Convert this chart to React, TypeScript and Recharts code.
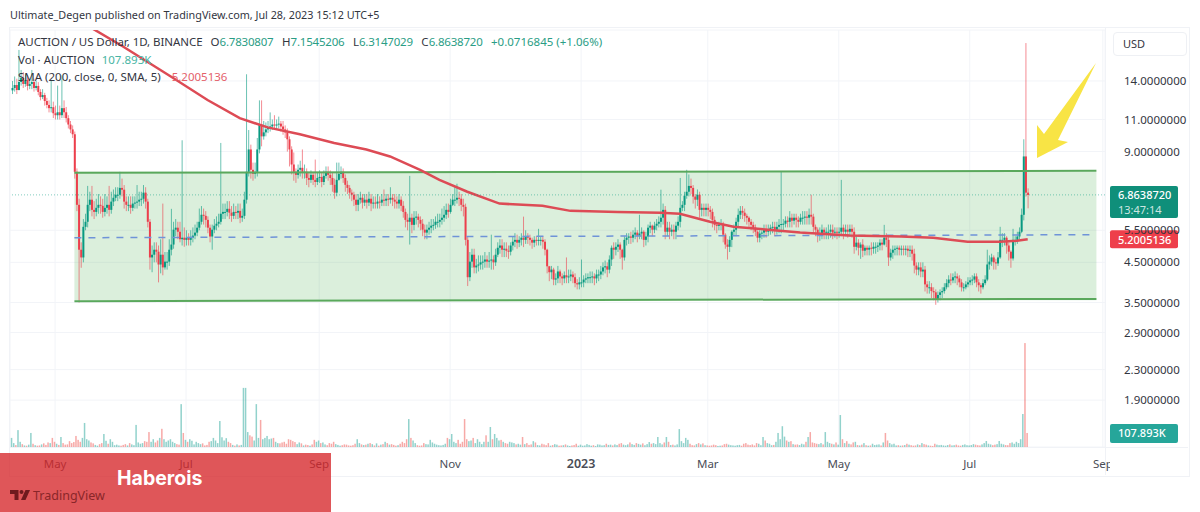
import {
  Bar,
  CartesianGrid,
  ComposedChart,
  Line,
  ReferenceArea,
  ReferenceLine,
  XAxis,
  YAxis,
} from "recharts";

// AUCTION / USD daily candles. Index 0 is around Apr 11 2022.
const CLOSES = [
  13.4, 13.65, 13.23, 13.91, 14.26, 13.74, 14.09, 13.57, 13.74, 13.91, 13.4, 13.57, 13.07, 12.66, 12.82, 12.35, 12.05, 11.81, 11.88, 11.44,
  11.3, 11.51, 11.3, 11.81, 11.51, 11.09, 10.66, 10.34, 10.03, 7.93, 6.45, 4.87, 4.64, 5.62, 5.8, 6.45, 6.66, 6.25, 6.17, 6.33,
  6.45, 6.41, 6.17, 6.33, 6.45, 6.25, 6.58, 6.74, 6.87, 6.87, 7.17, 7.09, 6.58, 6.45, 6.45, 6.33, 6.5, 6.54, 6.58, 6.66,
  6.7, 6.96, 6.58, 5.8, 4.64, 4.72, 4.87, 4.81, 4.44, 4.72, 4.36, 4.52, 4.52, 4.87, 5.03, 5.52, 5.59, 5.45, 5.2, 5.25,
  5.18, 5.25, 5.18, 5.25, 5.32, 5.42, 5.59, 5.8, 6.06, 6.02, 5.87, 5.59, 5.29, 5.52, 5.66, 5.73, 5.8, 6.1, 6.17, 6.17,
  6.29, 6.14, 6.02, 6.17, 6.14, 6.21, 5.95, 6.02, 6.66, 7.93, 9.12, 8.03, 7.83, 7.93, 9.12, 10.66, 9.9, 10.15, 10.34, 10.47,
  10.53, 10.66, 10.6, 10.66, 10.72, 10.53, 10.34, 10.15, 9.72, 9.12, 8.3, 7.93, 7.78, 8.03, 8.13, 7.93, 7.93, 7.63, 7.54, 7.78,
  7.54, 7.44, 7.63, 7.68, 7.44, 7.73, 7.93, 7.78, 7.63, 7.31, 6.96, 7.54, 7.83, 7.93, 7.63, 7.31, 7.17, 6.96, 6.87, 6.66,
  6.45, 6.66, 6.74, 6.54, 6.66, 6.54, 6.7, 6.5, 6.54, 6.5, 6.58, 6.54, 6.66, 6.62, 6.7, 6.66, 6.74, 6.66, 6.58, 6.5,
  6.66, 6.41, 6.17, 5.87, 5.8, 5.95, 5.69, 5.95, 5.99, 5.87, 5.73, 5.52, 5.42, 5.52, 5.59, 5.66, 5.69, 5.8, 5.8, 5.87,
  5.95, 6.06, 6.25, 6.17, 6.45, 6.66, 6.66, 6.74, 6.7, 6.45, 6.37, 5.18, 4.1, 4.52, 4.72, 4.36, 4.41, 4.44, 4.5, 4.52,
  4.58, 4.52, 4.55, 4.58, 4.5, 4.72, 4.93, 5.0, 4.87, 4.9, 4.84, 4.81, 5.0, 5.12, 5.18, 5.09, 5.18, 5.25, 5.18, 5.29,
  5.25, 5.18, 5.09, 5.18, 5.15, 5.18, 5.18, 5.12, 4.87, 4.39, 4.23, 4.3, 4.04, 4.07, 4.25, 4.12, 4.07, 4.15, 4.1, 4.12,
  4.17, 4.1, 3.95, 3.92, 3.97, 3.97, 4.04, 4.07, 4.1, 4.1, 4.12, 4.07, 4.17, 4.17, 4.25, 4.36, 4.39, 4.3, 4.58, 4.93,
  4.87, 4.96, 5.03, 4.87, 4.64, 5.18, 5.25, 5.29, 5.25, 5.35, 5.42, 5.32, 5.39, 5.45, 5.18, 5.29, 5.59, 5.66, 5.52, 5.66,
  5.73, 5.8, 5.95, 6.25, 5.45, 5.59, 5.45, 5.52, 5.45, 5.66, 5.8, 6.33, 6.45, 6.83, 7.0, 7.26, 7.17, 6.79, 6.66, 6.87,
  6.25, 6.33, 6.25, 6.33, 6.25, 6.17, 5.87, 5.69, 5.66, 5.69, 5.73, 5.35, 5.03, 4.96, 5.18, 5.45, 5.52, 5.8, 6.06, 6.21,
  6.14, 6.02, 5.95, 5.8, 5.69, 5.59, 5.45, 5.25, 5.39, 5.42, 5.52, 5.45, 5.52, 5.59, 5.62, 5.52, 5.62, 5.69, 5.72, 5.73,
  5.84, 5.8, 5.95, 5.84, 5.95, 5.87, 5.8, 5.95, 5.95, 5.99, 5.95, 6.06, 5.99, 5.62, 5.52, 5.35, 5.35, 5.52, 5.42, 5.45,
  5.45, 5.52, 5.42, 5.45, 5.42, 5.45, 5.59, 5.45, 5.52, 5.45, 5.55, 5.45, 4.96, 5.09, 4.93, 5.03, 4.84, 4.93, 4.87, 4.93,
  4.9, 4.96, 4.96, 5.0, 5.09, 5.03, 5.25, 5.18, 4.64, 4.78, 4.87, 4.9, 4.93, 4.87, 4.9, 4.87, 4.9, 4.84, 4.87, 4.75,
  4.41, 4.3, 4.36, 4.25, 4.3, 3.92, 3.85, 3.85, 3.76, 3.73, 3.58, 3.67, 3.73, 3.76, 3.85, 3.95, 4.04, 4.02, 4.1, 4.12,
  4.07, 3.97, 3.85, 3.85, 3.92, 3.97, 4.02, 4.04, 4.12, 3.97, 3.9, 3.85, 3.95, 4.04, 4.44, 4.52, 4.64, 4.5, 4.47, 4.64,
  5.18, 5.18, 5.25, 5.0, 4.81, 4.61, 5.18, 5.18, 5.29, 5.45, 6.06, 8.73, 6.96, 6.86,
];

const HIGHS = [
  14.0, 14.4, 14.2, 17.0, 15.0, 14.8, 14.6, 14.5, 14.2, 15.0, 14.2, 14.0, 13.9, 13.3, 13.3, 13.0, 12.6, 12.4, 14.1, 12.3,
  12.0, 13.6, 12.0, 14.5, 12.4, 11.9, 11.3, 10.9, 10.6, 10.2, 8.1, 6.7, 5.1, 5.9, 6.1, 7.26, 7.0, 7.26, 6.6, 6.7,
  6.9, 6.8, 6.7, 6.9, 6.8, 7.26, 7.0, 7.1, 7.2, 7.2, 7.93, 7.6, 7.3, 6.8, 6.8, 6.8, 6.8, 6.8, 7.3, 7.0,
  7.0, 7.3, 7.2, 6.7, 5.9, 5.0, 5.1, 5.1, 5.0, 5.2, 6.5, 4.8, 4.8, 5.2, 6.29, 5.8, 5.9, 5.8, 5.8, 9.66,
  5.6, 5.5, 5.4, 5.5, 5.6, 5.7, 5.8, 6.3, 6.4, 6.3, 6.2, 6.0, 5.7, 5.7, 5.9, 6.0, 6.1, 9.5, 6.5, 6.5,
  6.6, 6.6, 6.4, 6.5, 6.4, 6.5, 6.5, 6.3, 7.0, 14.6, 10.3, 9.4, 8.4, 8.4, 9.8, 12.4, 12.4, 10.9, 10.8, 10.9,
  11.5, 11.0, 11.3, 11.0, 11.2, 10.9, 10.9, 10.6, 10.4, 9.9, 9.3, 8.95, 8.1, 8.3, 8.5, 9.12, 8.3, 8.1, 7.9, 8.0,
  7.9, 8.56, 7.9, 8.0, 7.9, 8.0, 8.2, 8.2, 8.0, 7.9, 7.6, 8.4, 8.4, 8.2, 8.1, 7.8, 7.5, 7.3, 7.1, 7.0,
  6.9, 6.9, 7.0, 6.9, 6.9, 6.9, 7.0, 6.9, 6.8, 6.8, 6.9, 6.8, 6.9, 7.1, 6.9, 6.9, 7.2, 6.9, 6.9, 6.8,
  6.9, 6.8, 6.6, 6.3, 6.1, 7.73, 6.1, 6.2, 6.2, 6.1, 6.0, 5.9, 5.7, 5.7, 5.8, 5.9, 5.9, 6.0, 6.1, 6.1,
  6.3, 6.4, 6.5, 6.5, 6.7, 6.9, 7.2, 7.36, 7.0, 6.9, 6.7, 6.5, 5.3, 4.8, 4.9, 4.9, 4.6, 4.7, 4.7, 4.7,
  4.8, 4.7, 4.8, 5.35, 4.7, 4.9, 5.1, 5.2, 5.2, 5.1, 5.1, 5.0, 5.1, 5.3, 5.4, 5.35, 5.3, 5.4, 5.99, 5.5,
  5.4, 5.35, 5.25, 5.3, 5.3, 5.55, 5.3, 5.3, 5.2, 4.9, 4.4, 4.4, 4.35, 4.2, 4.4, 4.3, 4.2, 4.25, 4.64, 4.3,
  4.3, 4.25, 4.2, 4.05, 4.1, 4.58, 4.15, 4.2, 4.2, 4.25, 4.25, 4.2, 4.3, 4.3, 4.4, 4.5, 4.55, 4.5, 4.7, 5.0,
  5.1, 5.1, 5.2, 5.1, 4.9, 5.3, 5.4, 5.4, 5.45, 5.5, 5.6, 5.5, 6.06, 5.6, 5.5, 5.45, 5.7, 5.8, 5.7, 5.8,
  5.9, 6.0, 7.09, 6.5, 6.4, 5.8, 5.8, 5.7, 5.7, 5.8, 6.0, 7.63, 6.6, 7.0, 8.03, 7.8, 7.6, 7.3, 6.9, 7.1,
  7.0, 6.5, 6.5, 6.5, 6.5, 6.4, 6.3, 6.0, 5.8, 5.8, 5.9, 5.8, 5.4, 5.2, 5.3, 5.5, 5.7, 5.95, 6.3, 6.4,
  6.4, 6.3, 6.1, 6.0, 5.9, 5.8, 5.7, 5.5, 5.5, 5.5, 5.7, 5.7, 5.7, 5.7, 5.8, 5.8, 5.8, 5.9, 7.93, 5.9,
  6.0, 6.0, 6.2, 6.1, 6.1, 6.1, 6.0, 6.1, 6.2, 6.2, 6.2, 6.3, 6.87, 6.1, 5.7, 5.6, 5.6, 5.7, 5.6, 5.6,
  5.7, 5.7, 5.7, 5.6, 5.6, 5.6, 7.54, 5.7, 5.7, 5.7, 5.7, 5.7, 5.6, 5.3, 5.2, 5.1, 5.2, 5.0, 5.0, 5.0,
  5.1, 5.1, 5.1, 5.1, 5.2, 5.2, 5.69, 5.4, 5.3, 4.9, 5.0, 5.0, 5.0, 5.0, 5.0, 5.0, 5.0, 5.0, 5.0, 5.0,
  4.9, 4.5, 4.5, 4.5, 4.5, 4.4, 4.0, 4.0, 3.95, 3.85, 3.8, 3.75, 3.8, 3.85, 3.95, 4.05, 4.15, 4.2, 4.2, 4.25,
  4.2, 4.15, 4.05, 3.95, 4.0, 4.1, 4.1, 4.15, 4.2, 4.2, 4.05, 3.95, 4.05, 4.15, 4.87, 4.7, 4.75, 4.7, 4.6, 4.8,
  5.62, 5.4, 5.4, 5.3, 5.1, 4.85, 5.55, 5.3, 5.45, 5.6, 6.3, 9.72, 17.75, 7.15,
];

const LOWS = [
  12.9, 13.1, 12.9, 13.2, 13.6, 13.4, 13.5, 13.2, 13.3, 13.3, 13.1, 13.2, 12.8, 12.4, 12.5, 12.0, 11.8, 11.5, 11.5, 11.1,
  11.0, 11.0, 11.0, 11.1, 11.1, 10.8, 10.4, 10.1, 9.8, 7.6, 6.2, 3.5, 4.35, 4.5, 5.5, 5.6, 6.2, 6.0, 5.9, 6.0,
  6.1, 6.1, 5.95, 6.0, 6.1, 6.0, 6.1, 6.4, 6.6, 6.6, 6.7, 6.8, 6.3, 6.2, 6.2, 6.1, 6.2, 6.3, 6.3, 6.4,
  6.4, 6.5, 6.3, 5.6, 4.3, 4.23, 4.5, 4.5, 3.97, 4.2, 4.15, 4.3, 4.3, 4.4, 4.7, 4.9, 5.3, 5.2, 5.1, 5.0,
  4.96, 5.0, 5.0, 5.0, 5.1, 5.2, 5.3, 5.5, 5.7, 5.7, 5.6, 5.4, 5.1, 4.87, 5.4, 5.5, 5.6, 5.7, 5.9, 5.9,
  6.0, 5.9, 5.8, 5.9, 5.9, 5.9, 5.75, 5.8, 5.9, 6.5, 7.7, 7.6, 7.5, 7.6, 7.7, 8.9, 9.3, 9.7, 9.9, 10.1,
  10.2, 10.3, 10.3, 10.3, 10.4, 10.2, 10.0, 9.8, 9.0, 8.2, 7.8, 7.5, 7.4, 7.6, 7.7, 7.6, 7.6, 7.3, 7.2, 7.4,
  7.3, 7.2, 7.3, 7.4, 7.2, 7.3, 7.6, 7.5, 7.3, 7.0, 6.7, 6.8, 7.5, 7.6, 7.4, 7.0, 6.9, 6.7, 6.6, 6.4,
  6.2, 6.2, 6.5, 6.3, 6.4, 6.3, 6.4, 6.2, 6.3, 6.3, 6.3, 6.3, 6.4, 6.4, 6.4, 6.4, 6.5, 6.4, 6.3, 6.3,
  6.3, 6.2, 5.95, 5.6, 5.5, 5.03, 5.4, 5.5, 5.7, 5.6, 5.5, 5.3, 5.2, 5.2, 5.35, 5.4, 5.5, 5.55, 5.6, 5.6,
  5.7, 5.8, 5.9, 5.95, 6.1, 6.4, 6.4, 6.5, 6.4, 6.2, 6.0, 5.0, 3.88, 4.0, 4.35, 4.2, 4.2, 4.25, 4.3, 4.3,
  4.35, 4.35, 4.35, 4.3, 4.3, 4.4, 4.65, 4.75, 4.65, 4.65, 4.65, 4.6, 4.7, 4.85, 4.95, 4.9, 4.95, 5.0, 4.95, 5.05,
  5.05, 5.0, 4.9, 4.95, 5.0, 5.0, 5.0, 4.9, 4.7, 4.2, 4.0, 4.05, 3.9, 3.9, 3.95, 3.95, 3.9, 3.95, 3.95, 3.95,
  4.0, 3.95, 3.85, 3.8, 3.8, 3.85, 3.85, 3.95, 3.95, 3.95, 3.95, 3.9, 3.95, 4.0, 4.05, 4.15, 4.2, 4.1, 4.2, 4.4,
  4.6, 4.7, 4.8, 4.6, 4.3, 4.55, 5.0, 5.05, 5.05, 5.1, 5.2, 5.1, 5.2, 5.2, 4.95, 5.0, 5.1, 5.4, 5.3, 5.4,
  5.5, 5.6, 5.6, 5.7, 5.2, 5.3, 5.2, 5.3, 5.2, 5.2, 5.5, 5.6, 6.2, 6.2, 6.7, 6.8, 6.9, 6.5, 6.3, 6.4,
  5.95, 6.0, 6.0, 6.0, 6.0, 5.9, 5.6, 5.5, 5.4, 5.5, 5.5, 5.1, 4.9, 4.58, 4.8, 4.95, 5.3, 5.3, 5.6, 5.9,
  5.9, 5.8, 5.7, 5.6, 5.5, 5.4, 5.3, 5.1, 5.1, 5.2, 5.25, 5.25, 5.3, 5.35, 5.4, 5.3, 5.35, 5.4, 5.4, 5.45,
  5.6, 5.6, 5.6, 5.6, 5.7, 5.6, 5.6, 5.7, 5.7, 5.7, 5.7, 5.7, 5.7, 5.4, 5.3, 5.1, 5.15, 5.2, 5.2, 5.2,
  5.2, 5.25, 5.2, 5.25, 5.2, 5.25, 5.3, 5.2, 5.3, 5.25, 5.3, 5.25, 4.75, 4.85, 4.7, 4.6, 4.65, 4.7, 4.7, 4.7,
  4.7, 4.75, 4.75, 4.8, 4.85, 4.85, 5.0, 4.95, 4.4, 4.55, 4.6, 4.7, 4.7, 4.7, 4.7, 4.7, 4.7, 4.65, 4.65, 4.55,
  4.2, 4.15, 4.15, 4.1, 4.1, 3.75, 3.7, 3.7, 3.6, 3.55, 3.45, 3.5, 3.55, 3.6, 3.7, 3.8, 3.85, 3.9, 3.95, 3.95,
  3.9, 3.85, 3.75, 3.75, 3.8, 3.85, 3.9, 3.9, 3.95, 3.85, 3.75, 3.7, 3.8, 3.9, 4.0, 4.3, 4.4, 4.3, 4.3, 4.4,
  4.6, 4.95, 5.0, 4.75, 4.55, 4.35, 4.55, 5.0, 5.05, 5.2, 5.4, 5.85, 6.79, 6.31,
];

// Volume in thousands.
const VOLUMES = [
  70, 30, 15, 130, 40, 22, 12, 10, 18, 108, 25, 14, 10, 12, 20, 28, 16, 35, 30, 70,
  40, 25, 16, 77, 30, 18, 20, 45, 30, 38, 85, 55, 40, 70, 185, 60, 50, 35, 28, 16,
  10, 22, 30, 100, 48, 25, 60, 40, 14, 18, 12, 10, 16, 22, 12, 30, 20, 14, 170, 35,
  25, 30, 45, 40, 115, 40, 60, 35, 50, 70, 140, 60, 40, 50, 60, 40, 30, 22, 18, 330,
  108, 55, 40, 60, 48, 20, 40, 30, 22, 28, 12, 16, 40, 45, 70, 50, 30, 200, 75, 50,
  68, 40, 30, 16, 10, 20, 12, 16, 455, 455, 115, 90, 80, 50, 330, 70, 208, 60, 70, 85,
  60, 65, 70, 40, 30, 28, 35, 40, 25, 60, 55, 45, 38, 22, 35, 28, 12, 18, 15, 10,
  20, 55, 40, 50, 30, 35, 20, 14, 30, 25, 40, 22, 16, 10, 14, 20, 18, 12, 10, 14,
  25, 60, 30, 20, 15, 18, 25, 30, 22, 12, 28, 10, 18, 22, 40, 30, 18, 22, 16, 10,
  14, 25, 40, 30, 60, 215, 70, 50, 30, 14, 10, 12, 30, 22, 20, 55, 35, 25, 18, 14,
  12, 16, 25, 70, 60, 100, 40, 30, 55, 25, 40, 215, 60, 45, 50, 70, 30, 60, 40, 22,
  40, 90, 40, 154, 60, 100, 70, 50, 55, 40, 30, 25, 40, 35, 30, 20, 25, 18, 77, 22,
  30, 16, 20, 45, 35, 15, 12, 25, 20, 14, 30, 10, 15, 22, 18, 10, 12, 14, 20, 12,
  8, 12, 15, 25, 10, 18, 10, 12, 22, 16, 10, 14, 8, 20, 18, 12, 14, 25, 16, 18,
  12, 20, 15, 25, 30, 18, 14, 20, 35, 22, 16, 30, 24, 18, 28, 14, 22, 38, 25, 30,
  22, 77, 30, 20, 35, 77, 40, 15, 18, 12, 20, 138, 45, 30, 70, 55, 25, 14, 12, 22,
  30, 20, 28, 14, 12, 10, 12, 18, 14, 8, 10, 12, 22, 25, 18, 14, 12, 10, 14, 16,
  10, 25, 30, 18, 15, 20, 12, 30, 25, 14, 77, 50, 30, 25, 14, 16, 40, 108, 60, 160,
  80, 50, 40, 45, 22, 18, 20, 15, 25, 20, 40, 77, 115, 35, 30, 25, 22, 30, 20, 115,
  40, 30, 25, 20, 35, 18, 246, 60, 30, 45, 25, 20, 35, 40, 15, 12, 18, 30, 14, 10,
  12, 25, 15, 18, 20, 12, 35, 108, 50, 30, 20, 25, 12, 14, 10, 12, 15, 25, 18, 14,
  10, 12, 20, 15, 30, 22, 18, 12, 10, 8, 25, 18, 14, 16, 12, 10, 15, 20, 12, 14,
  18, 12, 10, 16, 20, 14, 12, 15, 22, 18, 14, 12, 20, 30, 46, 25, 20, 14, 18, 22,
  46, 25, 20, 15, 14, 30, 35, 25, 40, 30, 60, 254, 800, 107.893,
];

// SMA 200 as read at these candle indexes; the line joins them.
const SMA_INDEX = [37, 52, 75, 91, 106, 119, 134, 150, 165, 176, 190, 199, 212, 227, 247, 260, 282, 302, 311, 325, 336, 352, 367, 390, 414, 429, 445, 460, 468, 473];
const SMA_VALUES = [19.5, 17.32, 14.26, 12.43, 11.09, 10.47, 10.03, 9.5, 9.12, 8.73, 8.03, 7.54, 7.0, 6.5, 6.41, 6.21, 6.17, 6.14, 6.1, 5.8, 5.62, 5.52, 5.42, 5.32, 5.29, 5.25, 5.12, 5.12, 5.15, 5.2005136];

const MONTH_TICKS = [20, 81, 143, 204, 265, 324, 385, 446, 508];
const MONTH_LABELS = ["May", "Jul", "Sep", "Nov", "2023", "Mar", "May", "Jul", "Sep"];
const PRICE_TICKS = [14, 11, 9, 5.5, 4.5, 3.5, 2.9, 2.3, 1.9];

const LAST_PRICE = 6.863872;
const LAST_SMA = 5.2005136;
const LAST_VOLUME = 107.893;

const UP = "#089981";
const DOWN = "#ec3f4c";
const FONT = "'Noto Sans', sans-serif";

const rows = CLOSES.map((close, i) => {
  const smaAt = SMA_INDEX.indexOf(i);
  return {
    i,
    open: i === 0 ? 13.2 : CLOSES[i - 1],
    close,
    range: [LOWS[i], HIGHS[i]],
    volume: VOLUMES[i],
    sma: smaAt >= 0 ? SMA_VALUES[smaAt] : null,
  };
});

// Range bar on a log axis: open and close are placed inside the low-high span.
function Candle(props: any) {
  const { x, y, width, height, payload } = props;
  const [low, high] = payload.range;
  const at = (v: number) =>
    y + ((Math.log(high) - Math.log(v)) / (Math.log(high) - Math.log(low))) * height;
  const up = payload.close >= payload.open;
  const color = up ? UP : DOWN;
  const top = at(Math.max(payload.open, payload.close));
  const bottom = at(Math.min(payload.open, payload.close));
  const cx = x + width / 2;
  return (
    <g>
      <line x1={cx} x2={cx} y1={y} y2={y + height} stroke={color} strokeWidth={1} strokeOpacity={0.6} />
      <rect x={cx - 1} y={top} width={2} height={Math.max(bottom - top, 1)} fill={color} />
    </g>
  );
}

function VolumeBar(props: any) {
  const { x, y, width, height, payload } = props;
  const up = payload.close >= payload.open;
  return (
    <rect
      x={x + width / 2 - 0.75}
      y={y}
      width={1.5}
      height={height}
      fill={up ? "#26a69a" : "#ef5350"}
      fillOpacity={0.5}
    />
  );
}

function MonthTick(props: any) {
  const { x, y, payload } = props;
  const label = MONTH_LABELS[MONTH_TICKS.indexOf(payload.value)];
  const year = label === "2023";
  return (
    <text
      x={x}
      y={y + 13}
      textAnchor="middle"
      fontFamily={FONT}
      fontSize={year ? 12.5 : 11.5}
      fontWeight={year ? 600 : 400}
      fill="#4a4d57"
    >
      {label}
    </text>
  );
}

// Coloured box on the price scale, sitting on a reference line.
function ValueTag(props: any) {
  const { viewBox, lines, fill, boxHeight, offsetY } = props;
  const left = viewBox.x + viewBox.width + 5;
  const top = viewBox.y + offsetY;
  return (
    <g>
      <rect x={left} y={top} width={68} height={boxHeight} rx={2} fill={fill} />
      {lines.map((t: string, n: number) => (
        <text
          key={t}
          x={left + 8}
          y={top + 13.5 + n * 15}
          fontFamily={FONT}
          fontSize={11}
          fontWeight={n === 0 ? 500 : 400}
          fill="#fff"
          fillOpacity={n === 0 ? 1 : 0.8}
        >
          {t}
        </text>
      ))}
    </g>
  );
}

function Legend() {
  const base: React.CSSProperties = {
    position: "absolute",
    left: 18,
    fontFamily: FONT,
    fontSize: 11.5,
    color: "#33363f",
    whiteSpace: "nowrap",
    lineHeight: "16px",
  };
  const green = { color: "#2a9d85", marginRight: 8.5, letterSpacing: -0.2 };
  return (
    <>
      <div style={{ ...base, top: 34 }}>
        <span style={{ marginRight: 8, letterSpacing: -0.05 }}>AUCTION / US Dollar, 1D, BINANCE</span>
        O<span style={green}>6.7830807</span>
        H<span style={green}>7.1545206</span>
        L<span style={green}>6.3147029</span>
        C<span style={green}>6.8638720</span>
        <span style={{ color: "#2a9d85" }}>+0.0716845 (+1.06%)</span>
      </div>
      <div style={{ ...base, top: 52 }}>
        Vol · AUCTION <span style={{ color: "#48b5a4", marginLeft: 4 }}>107.893K</span>
      </div>
      <div style={{ ...base, top: 69 }}>
        SMA (200, close, 0, SMA, 5) <span style={{ color: "#e4606a", marginLeft: 8 }}>5.2005136</span>
      </div>
    </>
  );
}

export default function App() {
  return (
    <div style={{ position: "absolute", left: 0, top: 0, width: 1200, height: 512, background: "#fff", overflow: "hidden" }}>
      <div style={{ position: "absolute", left: 10, top: 7, fontFamily: FONT, fontSize: 10.8, lineHeight: "16px", color: "#33363f", whiteSpace: "nowrap" }}>
        Ultimate_Degen published on TradingView.com, Jul 28, 2023 15:12 UTC+5
      </div>
      <div style={{ position: "absolute", left: 9, top: 27, width: 1179, height: 448, border: "1px solid #f0f2f6" }} />
      <div style={{ position: "absolute", left: 1105, top: 28, width: 1, height: 447, background: "#f0f2f6" }} />
      <div style={{ position: "absolute", left: 10, top: 447, width: 1178, height: 1, background: "#f0f2f6" }} />

      <div style={{ position: "absolute", left: 0, top: 0 }}>
        <ComposedChart
          width={1200}
          height={512}
          data={rows}
          margin={{ top: 30, right: 10, bottom: 35, left: 10 }}
        >
          <CartesianGrid yAxisId="price" stroke="#f2f4f8" strokeWidth={1} />
          <XAxis
            dataKey="i"
            type="number"
            domain={[-1, 509]}
            ticks={MONTH_TICKS}
            interval={0}
            height={30}
            tick={<MonthTick />}
            tickLine={false}
            axisLine={false}
          />
          <YAxis
            yAxisId="price"
            orientation="right"
            scale="log"
            type="number"
            domain={[1.417, 19.26]}
            allowDataOverflow
            ticks={PRICE_TICKS}
            interval={0}
            width={85}
            tickFormatter={(v: number) => v.toFixed(7)}
            tick={{ fontSize: 11.5, fill: "#33363f", fontFamily: FONT, textAnchor: "start" }}
            tickMargin={13}
            tickLine={false}
            axisLine={false}
          />
          <YAxis yAxisId="vol" hide type="number" domain={[0, 3210]} allowDataOverflow />

          <ReferenceArea yAxisId="price" x1={29} x2={505} y1={3.55} y2={7.93} fill="#4caf50" fillOpacity={0.2} stroke="none" ifOverflow="visible" />
          <ReferenceLine yAxisId="price" segment={[{ x: 29, y: 7.88 }, { x: 505, y: 7.98 }]} stroke="#5aa85c" strokeWidth={2} />
          <ReferenceLine yAxisId="price" segment={[{ x: 29, y: 3.53 }, { x: 505, y: 3.58 }]} stroke="#5aa85c" strokeWidth={2} />
          <ReferenceLine yAxisId="price" segment={[{ x: 29, y: 5.25 }, { x: 505, y: 5.35 }]} stroke="#6f93d8" strokeWidth={1.5} strokeDasharray="7 7" />

          <Bar yAxisId="vol" dataKey="volume" shape={<VolumeBar />} barSize={2} isAnimationActive={false} />
          <Bar yAxisId="price" dataKey="range" shape={<Candle />} barSize={2} isAnimationActive={false} />
          <Line
            yAxisId="price"
            dataKey="sma"
            stroke="#dd4b55"
            strokeWidth={2.5}
            dot={false}
            connectNulls
            activeDot={false}
            isAnimationActive={false}
          />

          <ReferenceLine
            yAxisId="price"
            y={LAST_PRICE}
            stroke={UP}
            strokeOpacity={0.5}
            strokeDasharray="1 2"
            label={<ValueTag lines={["6.8638720", "13:47:14"]} fill="#0f8f7a" boxHeight={32} offsetY={-9} />}
          />
          <ReferenceLine
            yAxisId="price"
            y={LAST_SMA}
            stroke="none"
            label={<ValueTag lines={["5.2005136"]} fill="#ee3f4b" boxHeight={18} offsetY={-9} />}
          />
          <ReferenceLine
            yAxisId="vol"
            y={LAST_VOLUME}
            stroke="none"
            label={<ValueTag lines={["107.893K"]} fill="#26a69a" boxHeight={19} offsetY={-9} />}
          />
        </ComposedChart>
      </div>

      <Legend />

      <svg width={1200} height={512} style={{ position: "absolute", left: 0, top: 0, pointerEvents: "none" }}>
        <polygon points="1096,63 1058,140 1068,142 1037,158 1037,125 1044,134" fill="#f8e445" />
      </svg>

      <div style={{ position: "absolute", left: 1113, top: 32, width: 72, height: 22, border: "1px solid #eef0f4", borderRadius: 4, background: "#fff", fontFamily: FONT, fontSize: 11, lineHeight: "22px", color: "#33363f", textIndent: 9 }}>
        USD
      </div>
      <div style={{ position: "absolute", left: 1110, top: 452, width: 16, height: 20, background: "#fff" }} />

      <div style={{ position: "absolute", left: 0, top: 453, width: 331, height: 59, background: "rgba(214,38,42,0.78)" }}>
        <div style={{ position: "absolute", left: 117, top: 12, fontFamily: "Inter, sans-serif", fontWeight: 700, fontSize: 19.5, lineHeight: "26px", color: "#fff" }}>
          Haberois
        </div>
        <svg width={22} height={14} style={{ position: "absolute", left: 10, top: 36 }}>
          <path d="M0 1h8.5v10H4.5V5H0z" fill="#6f1a1e" />
          <circle cx="11.5" cy="3" r="2" fill="#6f1a1e" />
          <path d="M15.5 1H20l-4.5 10H11z" fill="#6f1a1e" />
        </svg>
        <div style={{ position: "absolute", left: 33, top: 34, fontFamily: FONT, fontSize: 12.5, lineHeight: "18px", color: "#8a2629" }}>
          TradingView
        </div>
      </div>
    </div>
  );
}
